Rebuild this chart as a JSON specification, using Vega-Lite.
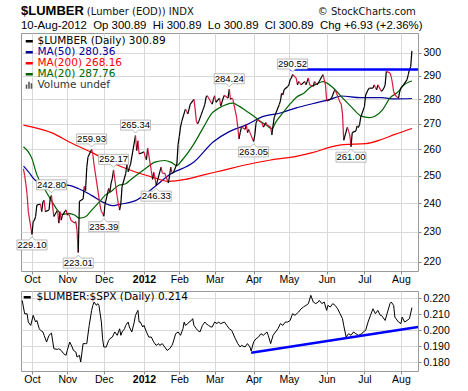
{
"$schema": "https://vega.github.io/schema/vega-lite/v6.json",
"background": "white",
"padding": {"left": 14, "top": 4, "right": 4, "bottom": 4},
"config": {
  "font": "Liberation Sans",
  "view": {"stroke": "#9a9a9a", "strokeWidth": 1},
  "axis": {"domain": false, "gridColor": "#d9d9d9", "gridWidth": 1, "tickColor": "#888888", "tickSize": 3, "labelFont": "Liberation Sans", "labelFontSize": 10.5, "labelColor": "#000000", "labelFlush": false, "labelOverlap": false, "labelPadding": 0},
  "legend": {"labelFont": "DejaVu Sans", "labelFontSize": 10.5, "labelColor": "#000000"}
},
"title": {"text": "(Lumber (EOD)) INDX\u00a0\u00a0\u00a0\u00a0\u00a0\u00a0\u00a0\u00a0\u00a0\u00a0\u00a0\u00a0\u00a0\u00a0\u00a0\u00a0\u00a0\u00a0\u00a0\u00a0\u00a0\u00a0\u00a0\u00a0\u00a0\u00a0\u00a0\u00a0\u00a0\u00a0\u00a0\u00a0\u00a0\u00a0\u00a0\u00a0\u00a0\u00a0\u00a0\u00a9 StockCharts.com", "anchor": "start", "dx": 72, "dy": 17, "font": "DejaVu Sans", "fontSize": 10, "fontWeight": "normal", "color": "#111111"},
"spacing": 5,
"resolve": {"scale": {"color": "independent"}},
"datasets": {
"price": [
{"date":"2011-09-26","close":252.5},{"date":"2011-09-27","close":250},{"date":"2011-09-28","close":247},{"date":"2011-09-29","close":243},{"date":"2011-09-30","close":237},
{"date":"2011-10-03","close":229.1},{"date":"2011-10-04","close":233.5},{"date":"2011-10-05","close":234},{"date":"2011-10-06","close":235.3},{"date":"2011-10-07","close":239.3},
{"date":"2011-10-10","close":239.7},{"date":"2011-10-11","close":237},{"date":"2011-10-12","close":240.5},{"date":"2011-10-13","close":241},{"date":"2011-10-14","close":237},
{"date":"2011-10-17","close":237.6},{"date":"2011-10-18","close":241.7},{"date":"2011-10-19","close":242.8},{"date":"2011-10-20","close":238.7},{"date":"2011-10-21","close":235.3},
{"date":"2011-10-24","close":237.6},{"date":"2011-10-25","close":233},{"date":"2011-10-26","close":237},{"date":"2011-10-27","close":234},{"date":"2011-10-28","close":235.8},
{"date":"2011-10-31","close":237.6},{"date":"2011-11-01","close":235.8},{"date":"2011-11-02","close":236.3},{"date":"2011-11-03","close":235.3},{"date":"2011-11-04","close":234},
{"date":"2011-11-07","close":233},{"date":"2011-11-08","close":233.5},{"date":"2011-11-09","close":230.5},{"date":"2011-11-10","close":223.01},{"date":"2011-11-11","close":240.7},
{"date":"2011-11-14","close":241.5},{"date":"2011-11-15","close":246},{"date":"2011-11-16","close":244.5},{"date":"2011-11-17","close":253},{"date":"2011-11-18","close":257},
{"date":"2011-11-21","close":259.93},{"date":"2011-11-22","close":258},{"date":"2011-11-23","close":254},{"date":"2011-11-25","close":248},
{"date":"2011-11-28","close":239},{"date":"2011-11-29","close":237},{"date":"2011-11-30","close":236.5},{"date":"2011-12-01","close":235.39},{"date":"2011-12-02","close":239.6},
{"date":"2011-12-05","close":245.3},{"date":"2011-12-06","close":244},{"date":"2011-12-07","close":247.3},{"date":"2011-12-08","close":249},{"date":"2011-12-09","close":252.17},
{"date":"2011-12-12","close":242.3},{"date":"2011-12-13","close":239.7},{"date":"2011-12-14","close":237.5},{"date":"2011-12-15","close":240},{"date":"2011-12-16","close":246},
{"date":"2011-12-19","close":250.8},{"date":"2011-12-20","close":254.4},{"date":"2011-12-21","close":251.4},{"date":"2011-12-22","close":253},{"date":"2011-12-23","close":254.4},
{"date":"2011-12-27","close":265.34},{"date":"2011-12-28","close":259.5},{"date":"2011-12-29","close":263.3},{"date":"2011-12-30","close":258.2},
{"date":"2012-01-03","close":259},{"date":"2012-01-04","close":257},{"date":"2012-01-05","close":256},{"date":"2012-01-06","close":260.4},
{"date":"2012-01-09","close":251.9},{"date":"2012-01-10","close":248.6},{"date":"2012-01-11","close":251.2},{"date":"2012-01-12","close":249.3},{"date":"2012-01-13","close":246.33},
{"date":"2012-01-17","close":253.2},{"date":"2012-01-18","close":251},{"date":"2012-01-19","close":250.8},{"date":"2012-01-20","close":251},
{"date":"2012-01-23","close":247.3},{"date":"2012-01-24","close":250},{"date":"2012-01-25","close":253.2},{"date":"2012-01-26","close":251},{"date":"2012-01-27","close":251},
{"date":"2012-01-30","close":254.4},{"date":"2012-01-31","close":261.9},{"date":"2012-02-01","close":265},{"date":"2012-02-02","close":268.7},{"date":"2012-02-03","close":271},
{"date":"2012-02-06","close":276},{"date":"2012-02-07","close":275},{"date":"2012-02-08","close":274},{"date":"2012-02-09","close":276},{"date":"2012-02-10","close":278},
{"date":"2012-02-13","close":280},{"date":"2012-02-14","close":276},{"date":"2012-02-15","close":271},{"date":"2012-02-16","close":270},{"date":"2012-02-17","close":271},
{"date":"2012-02-21","close":276.5},{"date":"2012-02-22","close":278},{"date":"2012-02-23","close":281},{"date":"2012-02-24","close":281.5},
{"date":"2012-02-27","close":278.8},{"date":"2012-02-28","close":278},{"date":"2012-02-29","close":280},{"date":"2012-03-01","close":281.5},{"date":"2012-03-02","close":278.8},
{"date":"2012-03-05","close":280.5},{"date":"2012-03-06","close":277.2},{"date":"2012-03-07","close":278.8},{"date":"2012-03-08","close":280.5},{"date":"2012-03-09","close":281.7},
{"date":"2012-03-12","close":280.5},{"date":"2012-03-13","close":284.24},{"date":"2012-03-14","close":280},{"date":"2012-03-15","close":280.5},{"date":"2012-03-16","close":280},
{"date":"2012-03-19","close":272.7},{"date":"2012-03-20","close":268.7},{"date":"2012-03-21","close":264},{"date":"2012-03-22","close":266.5},{"date":"2012-03-23","close":268.7},
{"date":"2012-03-26","close":267.8},{"date":"2012-03-27","close":269.7},{"date":"2012-03-28","close":266.5},{"date":"2012-03-29","close":267.8},{"date":"2012-03-30","close":266.5},
{"date":"2012-04-02","close":263.05},{"date":"2012-04-03","close":265.6},{"date":"2012-04-04","close":270.3},{"date":"2012-04-05","close":271.6},
{"date":"2012-04-09","close":270.3},{"date":"2012-04-10","close":268.7},{"date":"2012-04-11","close":269.5},{"date":"2012-04-12","close":270.5},{"date":"2012-04-13","close":269.5},
{"date":"2012-04-16","close":268.7},{"date":"2012-04-17","close":265.6},{"date":"2012-04-18","close":269.5},{"date":"2012-04-19","close":272.7},{"date":"2012-04-20","close":274},
{"date":"2012-04-23","close":277.8},{"date":"2012-04-24","close":279.3},{"date":"2012-04-25","close":282.6},{"date":"2012-04-26","close":281.8},{"date":"2012-04-27","close":284},
{"date":"2012-04-30","close":285.4},{"date":"2012-05-01","close":286.1},{"date":"2012-05-02","close":288.3},{"date":"2012-05-03","close":289},{"date":"2012-05-04","close":290.52},
{"date":"2012-05-07","close":289},{"date":"2012-05-08","close":286.1},{"date":"2012-05-09","close":287.5},{"date":"2012-05-10","close":286.8},{"date":"2012-05-11","close":286.1},
{"date":"2012-05-14","close":287.5},{"date":"2012-05-15","close":286.1},{"date":"2012-05-16","close":287.5},{"date":"2012-05-17","close":289},{"date":"2012-05-18","close":286.1},
{"date":"2012-05-21","close":285.5},{"date":"2012-05-22","close":287.5},{"date":"2012-05-23","close":286.8},{"date":"2012-05-24","close":286.1},{"date":"2012-05-25","close":286.8},
{"date":"2012-05-29","close":290.5},{"date":"2012-05-30","close":288.3},{"date":"2012-05-31","close":286.1},{"date":"2012-06-01","close":279.3},
{"date":"2012-06-04","close":280},{"date":"2012-06-05","close":280.6},{"date":"2012-06-06","close":281.8},{"date":"2012-06-07","close":283.3},{"date":"2012-06-08","close":284},
{"date":"2012-06-11","close":280},{"date":"2012-06-12","close":278.8},{"date":"2012-06-13","close":278},{"date":"2012-06-14","close":274},{"date":"2012-06-15","close":263.5},
{"date":"2012-06-18","close":268.7},{"date":"2012-06-19","close":267},{"date":"2012-06-20","close":265.6},{"date":"2012-06-21","close":261},{"date":"2012-06-22","close":266.5},
{"date":"2012-06-25","close":267.2},{"date":"2012-06-26","close":269.2},{"date":"2012-06-27","close":268.5},{"date":"2012-06-28","close":269.7},{"date":"2012-06-29","close":272.7},
{"date":"2012-07-02","close":277},{"date":"2012-07-03","close":281.8},{"date":"2012-07-05","close":284},{"date":"2012-07-06","close":284.7},
{"date":"2012-07-09","close":284.7},{"date":"2012-07-10","close":286.1},{"date":"2012-07-11","close":285},{"date":"2012-07-12","close":284},{"date":"2012-07-13","close":286.1},
{"date":"2012-07-16","close":283.3},{"date":"2012-07-17","close":284},{"date":"2012-07-18","close":284.7},{"date":"2012-07-19","close":286.1},{"date":"2012-07-20","close":291.9},
{"date":"2012-07-23","close":291.2},{"date":"2012-07-24","close":289.6},{"date":"2012-07-25","close":286.8},{"date":"2012-07-26","close":283.3},{"date":"2012-07-27","close":281.8},
{"date":"2012-07-30","close":280.5},{"date":"2012-07-31","close":283.3},{"date":"2012-08-01","close":284.7},{"date":"2012-08-02","close":285.4},{"date":"2012-08-03","close":286},
{"date":"2012-08-06","close":288.3},{"date":"2012-08-07","close":290.5},{"date":"2012-08-08","close":292.6},{"date":"2012-08-09","close":293.96},{"date":"2012-08-10","close":300.89}
],
"ma": [
{"date":"2011-09-26","series":"MA(50) 280.36","value":253.6},{"date":"2011-09-30","series":"MA(50) 280.36","value":251.5},{"date":"2011-10-06","series":"MA(50) 280.36","value":248.2},{"date":"2011-10-14","series":"MA(50) 280.36","value":246.8},{"date":"2011-11-01","series":"MA(50) 280.36","value":246.5},{"date":"2011-11-10","series":"MA(50) 280.36","value":245.3},{"date":"2011-11-21","series":"MA(50) 280.36","value":242.8},{"date":"2011-12-01","series":"MA(50) 280.36","value":240.2},{"date":"2011-12-08","series":"MA(50) 280.36","value":239.1},{"date":"2011-12-14","series":"MA(50) 280.36","value":239.6},{"date":"2011-12-27","series":"MA(50) 280.36","value":240.9},{"date":"2012-01-13","series":"MA(50) 280.36","value":246.4},{"date":"2012-01-23","series":"MA(50) 280.36","value":250.1},{"date":"2012-02-13","series":"MA(50) 280.36","value":255.1},{"date":"2012-02-29","series":"MA(50) 280.36","value":262.9},{"date":"2012-03-13","series":"MA(50) 280.36","value":266.9},{"date":"2012-03-27","series":"MA(50) 280.36","value":269.6},{"date":"2012-04-10","series":"MA(50) 280.36","value":273.0},{"date":"2012-04-24","series":"MA(50) 280.36","value":274.4},{"date":"2012-05-07","series":"MA(50) 280.36","value":276.5},{"date":"2012-05-21","series":"MA(50) 280.36","value":278.3},{"date":"2012-06-04","series":"MA(50) 280.36","value":280.0},{"date":"2012-06-13","series":"MA(50) 280.36","value":281.4},{"date":"2012-06-29","series":"MA(50) 280.36","value":280.7},{"date":"2012-07-16","series":"MA(50) 280.36","value":280.7},{"date":"2012-07-27","series":"MA(50) 280.36","value":280.2},{"date":"2012-08-10","series":"MA(50) 280.36","value":280.36},
{"date":"2011-09-26","series":"MA(200) 268.16","value":269.5},{"date":"2011-10-20","series":"MA(200) 268.16","value":266.3},{"date":"2011-11-04","series":"MA(200) 268.16","value":262.5},{"date":"2011-11-21","series":"MA(200) 268.16","value":258.8},{"date":"2011-12-06","series":"MA(200) 268.16","value":255.2},{"date":"2011-12-23","series":"MA(200) 268.16","value":252.0},{"date":"2012-01-11","series":"MA(200) 268.16","value":249.3},{"date":"2012-01-23","series":"MA(200) 268.16","value":247.9},{"date":"2012-02-06","series":"MA(200) 268.16","value":248.6},{"date":"2012-02-21","series":"MA(200) 268.16","value":250.3},{"date":"2012-03-08","series":"MA(200) 268.16","value":252.0},{"date":"2012-03-27","series":"MA(200) 268.16","value":254.1},{"date":"2012-04-16","series":"MA(200) 268.16","value":255.9},{"date":"2012-05-07","series":"MA(200) 268.16","value":257.3},{"date":"2012-05-21","series":"MA(200) 268.16","value":258.8},{"date":"2012-06-04","series":"MA(200) 268.16","value":260.8},{"date":"2012-06-15","series":"MA(200) 268.16","value":261.8},{"date":"2012-07-03","series":"MA(200) 268.16","value":262.2},{"date":"2012-07-16","series":"MA(200) 268.16","value":263.8},{"date":"2012-07-27","series":"MA(200) 268.16","value":265.8},{"date":"2012-08-10","series":"MA(200) 268.16","value":268.16},
{"date":"2011-09-26","series":"MA(20) 287.76","value":261.0},{"date":"2011-10-03","series":"MA(20) 287.76","value":256.4},{"date":"2011-10-07","series":"MA(20) 287.76","value":250.4},{"date":"2011-10-13","series":"MA(20) 287.76","value":245.4},{"date":"2011-10-19","series":"MA(20) 287.76","value":240.9},{"date":"2011-10-24","series":"MA(20) 287.76","value":237.5},{"date":"2011-10-28","series":"MA(20) 287.76","value":236.0},{"date":"2011-11-02","series":"MA(20) 287.76","value":236.4},{"date":"2011-11-07","series":"MA(20) 287.76","value":235.8},{"date":"2011-11-11","series":"MA(20) 287.76","value":234.7},{"date":"2011-11-16","series":"MA(20) 287.76","value":235.2},{"date":"2011-11-21","series":"MA(20) 287.76","value":237.5},{"date":"2011-11-28","series":"MA(20) 287.76","value":240.8},{"date":"2011-12-02","series":"MA(20) 287.76","value":242.8},{"date":"2011-12-07","series":"MA(20) 287.76","value":244.2},{"date":"2011-12-13","series":"MA(20) 287.76","value":246.4},{"date":"2011-12-19","series":"MA(20) 287.76","value":247.0},{"date":"2011-12-23","series":"MA(20) 287.76","value":248.5},{"date":"2012-01-04","series":"MA(20) 287.76","value":252.6},{"date":"2012-01-12","series":"MA(20) 287.76","value":255.1},{"date":"2012-01-20","series":"MA(20) 287.76","value":255.7},{"date":"2012-01-25","series":"MA(20) 287.76","value":255.1},{"date":"2012-01-30","series":"MA(20) 287.76","value":253.8},{"date":"2012-02-03","series":"MA(20) 287.76","value":255.7},{"date":"2012-02-13","series":"MA(20) 287.76","value":262.1},{"date":"2012-02-21","series":"MA(20) 287.76","value":268.8},{"date":"2012-02-28","series":"MA(20) 287.76","value":274.4},{"date":"2012-03-05","series":"MA(20) 287.76","value":276.5},{"date":"2012-03-16","series":"MA(20) 287.76","value":278.4},{"date":"2012-03-21","series":"MA(20) 287.76","value":277.2},{"date":"2012-03-27","series":"MA(20) 287.76","value":275.2},{"date":"2012-04-02","series":"MA(20) 287.76","value":273.2},{"date":"2012-04-09","series":"MA(20) 287.76","value":270.5},{"date":"2012-04-13","series":"MA(20) 287.76","value":269.3},{"date":"2012-04-17","series":"MA(20) 287.76","value":268.0},{"date":"2012-04-20","series":"MA(20) 287.76","value":270.5},{"date":"2012-04-26","series":"MA(20) 287.76","value":274.4},{"date":"2012-05-02","series":"MA(20) 287.76","value":278.1},{"date":"2012-05-07","series":"MA(20) 287.76","value":280.8},{"date":"2012-05-14","series":"MA(20) 287.76","value":282.9},{"date":"2012-05-18","series":"MA(20) 287.76","value":284.9},{"date":"2012-05-24","series":"MA(20) 287.76","value":286.5},{"date":"2012-05-29","series":"MA(20) 287.76","value":287.5},{"date":"2012-06-06","series":"MA(20) 287.76","value":285.0},{"date":"2012-06-14","series":"MA(20) 287.76","value":280.6},{"date":"2012-06-22","series":"MA(20) 287.76","value":276.5},{"date":"2012-06-29","series":"MA(20) 287.76","value":273.2},{"date":"2012-07-06","series":"MA(20) 287.76","value":272.5},{"date":"2012-07-11","series":"MA(20) 287.76","value":273.2},{"date":"2012-07-17","series":"MA(20) 287.76","value":275.8},{"date":"2012-07-23","series":"MA(20) 287.76","value":280.6},{"date":"2012-07-30","series":"MA(20) 287.76","value":283.3},{"date":"2012-08-02","series":"MA(20) 287.76","value":285.4},{"date":"2012-08-10","series":"MA(20) 287.76","value":287.76}
],
"ratio": [
{"date":"2011-09-25","ratio":0.2185},{"date":"2011-09-27","ratio":0.2102},{"date":"2011-09-29","ratio":0.2102},{"date":"2011-09-30","ratio":0.205},{"date":"2011-10-02","ratio":0.2029},{"date":"2011-10-04","ratio":0.2092},{"date":"2011-10-06","ratio":0.205},{"date":"2011-10-07","ratio":0.206},{"date":"2011-10-09","ratio":0.2008},{"date":"2011-10-10","ratio":0.1998},{"date":"2011-10-12","ratio":0.1988},{"date":"2011-10-13","ratio":0.1967},{"date":"2011-10-15","ratio":0.1925},{"date":"2011-10-17","ratio":0.1967},{"date":"2011-10-19","ratio":0.1981},{"date":"2011-10-21","ratio":0.1883},{"date":"2011-10-24","ratio":0.1879},{"date":"2011-10-25","ratio":0.1883},{"date":"2011-10-27","ratio":0.1873},{"date":"2011-10-29","ratio":0.1852},{"date":"2011-10-31","ratio":0.1842},
{"date":"2011-11-01","ratio":0.1873},{"date":"2011-11-03","ratio":0.1925},{"date":"2011-11-05","ratio":0.1894},{"date":"2011-11-06","ratio":0.1873},{"date":"2011-11-08","ratio":0.1863},{"date":"2011-11-09","ratio":0.1831},{"date":"2011-11-11","ratio":0.1842},{"date":"2011-11-12","ratio":0.18},{"date":"2011-11-14","ratio":0.1915},{"date":"2011-11-16","ratio":0.1915},{"date":"2011-11-17","ratio":0.1915},{"date":"2011-11-19","ratio":0.2029},{"date":"2011-11-21","ratio":0.2123},{"date":"2011-11-22","ratio":0.2154},{"date":"2011-11-23","ratio":0.2175},{"date":"2011-11-25","ratio":0.2154},{"date":"2011-11-26","ratio":0.2165},{"date":"2011-11-27","ratio":0.2154},{"date":"2011-11-29","ratio":0.205},{"date":"2011-11-30","ratio":0.1946},
{"date":"2011-12-01","ratio":0.1894},{"date":"2011-12-03","ratio":0.1894},{"date":"2011-12-05","ratio":0.1935},{"date":"2011-12-06","ratio":0.1946},{"date":"2011-12-08","ratio":0.1956},{"date":"2011-12-10","ratio":0.1988},{"date":"2011-12-12","ratio":0.1967},{"date":"2011-12-14","ratio":0.2008},{"date":"2011-12-15","ratio":0.1967},{"date":"2011-12-16","ratio":0.1988},{"date":"2011-12-18","ratio":0.2008},{"date":"2011-12-19","ratio":0.2029},{"date":"2011-12-21","ratio":0.205},{"date":"2011-12-22","ratio":0.2019},{"date":"2011-12-24","ratio":0.1988},{"date":"2011-12-26","ratio":0.205},{"date":"2011-12-27","ratio":0.2092},{"date":"2011-12-29","ratio":0.2123},{"date":"2011-12-30","ratio":0.205},{"date":"2011-12-31","ratio":0.205},
{"date":"2012-01-02","ratio":0.2019},{"date":"2012-01-03","ratio":0.2029},{"date":"2012-01-05","ratio":0.1988},{"date":"2012-01-07","ratio":0.1956},{"date":"2012-01-09","ratio":0.1956},{"date":"2012-01-11","ratio":0.1925},{"date":"2012-01-13","ratio":0.1904},{"date":"2012-01-15","ratio":0.1915},{"date":"2012-01-16","ratio":0.1904},{"date":"2012-01-18","ratio":0.1915},{"date":"2012-01-20","ratio":0.1894},{"date":"2012-01-22","ratio":0.1873},{"date":"2012-01-24","ratio":0.1883},{"date":"2012-01-26","ratio":0.1904},{"date":"2012-01-27","ratio":0.1925},{"date":"2012-01-29","ratio":0.1977},{"date":"2012-01-31","ratio":0.1988},
{"date":"2012-02-02","ratio":0.1967},{"date":"2012-02-04","ratio":0.2008},{"date":"2012-02-05","ratio":0.205},{"date":"2012-02-06","ratio":0.2029},{"date":"2012-02-08","ratio":0.204},{"date":"2012-02-09","ratio":0.205},{"date":"2012-02-11","ratio":0.206},{"date":"2012-02-12","ratio":0.2071},{"date":"2012-02-13","ratio":0.2029},{"date":"2012-02-15","ratio":0.2008},{"date":"2012-02-16","ratio":0.1998},{"date":"2012-02-18","ratio":0.1988},{"date":"2012-02-20","ratio":0.2029},{"date":"2012-02-22","ratio":0.205},{"date":"2012-02-23","ratio":0.204},{"date":"2012-02-25","ratio":0.2029},{"date":"2012-02-27","ratio":0.2019},{"date":"2012-02-28","ratio":0.2019},
{"date":"2012-03-01","ratio":0.205},{"date":"2012-03-03","ratio":0.204},{"date":"2012-03-04","ratio":0.205},{"date":"2012-03-06","ratio":0.204},{"date":"2012-03-09","ratio":0.205},{"date":"2012-03-11","ratio":0.2029},{"date":"2012-03-13","ratio":0.2008},{"date":"2012-03-15","ratio":0.1998},{"date":"2012-03-18","ratio":0.1946},{"date":"2012-03-20","ratio":0.1915},{"date":"2012-03-22","ratio":0.1894},{"date":"2012-03-23","ratio":0.1904},{"date":"2012-03-26","ratio":0.1894},{"date":"2012-03-28","ratio":0.1915},{"date":"2012-03-30","ratio":0.1894},{"date":"2012-03-31","ratio":0.1869},
{"date":"2012-04-02","ratio":0.1925},{"date":"2012-04-04","ratio":0.1946},{"date":"2012-04-06","ratio":0.1956},{"date":"2012-04-08","ratio":0.1977},{"date":"2012-04-10","ratio":0.1967},{"date":"2012-04-13","ratio":0.1988},{"date":"2012-04-14","ratio":0.1967},{"date":"2012-04-16","ratio":0.1915},{"date":"2012-04-18","ratio":0.1967},{"date":"2012-04-20","ratio":0.1988},{"date":"2012-04-22","ratio":0.2008},{"date":"2012-04-24","ratio":0.204},{"date":"2012-04-26","ratio":0.2029},{"date":"2012-04-28","ratio":0.205},{"date":"2012-04-30","ratio":0.205},
{"date":"2012-05-02","ratio":0.206},{"date":"2012-05-04","ratio":0.2102},{"date":"2012-05-06","ratio":0.2092},{"date":"2012-05-09","ratio":0.2113},{"date":"2012-05-11","ratio":0.2133},{"date":"2012-05-13","ratio":0.2144},{"date":"2012-05-15","ratio":0.2154},{"date":"2012-05-17","ratio":0.2165},{"date":"2012-05-19","ratio":0.2217},{"date":"2012-05-21","ratio":0.2175},{"date":"2012-05-23","ratio":0.2165},{"date":"2012-05-25","ratio":0.2175},{"date":"2012-05-26","ratio":0.2185},{"date":"2012-05-28","ratio":0.2165},{"date":"2012-05-30","ratio":0.2175},
{"date":"2012-06-01","ratio":0.2123},{"date":"2012-06-02","ratio":0.2154},{"date":"2012-06-04","ratio":0.2144},{"date":"2012-06-06","ratio":0.2165},{"date":"2012-06-08","ratio":0.2154},{"date":"2012-06-10","ratio":0.2133},{"date":"2012-06-12","ratio":0.2102},{"date":"2012-06-14","ratio":0.2071},{"date":"2012-06-15","ratio":0.2029},{"date":"2012-06-17","ratio":0.1956},{"date":"2012-06-19","ratio":0.1977},{"date":"2012-06-21","ratio":0.1967},{"date":"2012-06-23","ratio":0.1988},{"date":"2012-06-25","ratio":0.1977},{"date":"2012-06-27","ratio":0.1967},{"date":"2012-06-30","ratio":0.1977},
{"date":"2012-07-01","ratio":0.1988},{"date":"2012-07-03","ratio":0.1998},{"date":"2012-07-05","ratio":0.205},{"date":"2012-07-07","ratio":0.2092},{"date":"2012-07-09","ratio":0.2133},{"date":"2012-07-11","ratio":0.2102},{"date":"2012-07-13","ratio":0.2123},{"date":"2012-07-15","ratio":0.2092},{"date":"2012-07-16","ratio":0.2092},{"date":"2012-07-19","ratio":0.206},{"date":"2012-07-21","ratio":0.2113},{"date":"2012-07-23","ratio":0.2165},{"date":"2012-07-24","ratio":0.2175},{"date":"2012-07-26","ratio":0.2154},{"date":"2012-07-27","ratio":0.2081},{"date":"2012-07-30","ratio":0.205},
{"date":"2012-08-01","ratio":0.204},{"date":"2012-08-02","ratio":0.2081},{"date":"2012-08-04","ratio":0.205},{"date":"2012-08-06","ratio":0.206},{"date":"2012-08-08","ratio":0.2071},{"date":"2012-08-10","ratio":0.214}
],
"labels": [
{"date":"2011-10-19","price":242.80,"kind":"hi"},{"date":"2011-11-21","price":259.93,"kind":"hi"},{"date":"2011-12-09","price":252.17,"kind":"hi"},{"date":"2011-12-27","price":265.34,"kind":"hi"},{"date":"2012-03-13","price":284.24,"kind":"hi"},{"date":"2012-05-04","price":290.52,"kind":"hi"},
{"date":"2011-10-03","price":229.10,"kind":"lo"},{"date":"2011-11-10","price":223.01,"kind":"lo"},{"date":"2011-12-01","price":235.39,"kind":"lo"},{"date":"2012-01-13","price":246.33,"kind":"lo"},{"date":"2012-04-02","price":263.05,"kind":"lo"},{"date":"2012-06-21","price":261.00,"kind":"lo"}
],
"resist": [{"start":"2012-05-02","end":"2012-08-15","level":292.7}],
"trend": [{"start":"2012-03-31","end":"2012-08-15","from":0.1858,"to":0.2019}]
},
"vconcat": [
{
  "width": 397, "height": 238,
  "title": {"text": "$LUMBER", "subtitle": "10-Aug-2012\u00a0 Op 300.89\u00a0 Hi 300.89\u00a0 Lo 300.89\u00a0 Cl 300.89\u00a0 Chg +6.93 (+2.36%)", "anchor": "start", "frame": "group", "font": "Liberation Sans", "fontSize": 13, "fontWeight": "bold", "color": "#000000", "subtitleFont": "Liberation Sans", "subtitleFontSize": 11.4, "subtitleColor": "#000000", "subtitlePadding": 2, "offset": 2},
  "layer": [
    {
      "data": {"name": "ma"},
      "mark": {"type": "line", "strokeWidth": 1.2, "interpolate": "monotone"},
      "encoding": {
        "x": {"field": "date", "type": "temporal", "title": null,
              "scale": {"type": "utc", "domain": [{"year": 2011, "month": 9, "date": 24, "utc": true}, {"year": 2012, "month": 8, "date": 15, "utc": true}]},
              "axis": {"values": {"expr": "[utc(2011,9,3),utc(2011,10,1),utc(2011,11,1),utc(2012,0,3),utc(2012,1,1),utc(2012,2,1),utc(2012,3,2),utc(2012,4,1),utc(2012,5,1),utc(2012,6,2),utc(2012,7,1)]"}, "labelExpr": "utcmonth(datum.value) == 0 ? utcFormat(datum.value, '%Y') : utcFormat(datum.value, '%b')", "labelFontWeight": {"condition": {"test": "utcmonth(datum.value) == 0", "value": "bold"}, "value": "normal"}, "labelOverlap": false, "labelBound": false, "labelFlush": false, "grid": true}},
        "y": {"field": "value", "type": "quantitative", "title": null,
              "scale": {"type": "log", "domain": [217, 309], "nice": false, "zero": false},
              "axis": {"orient": "right", "values": [220, 230, 240, 250, 260, 270, 280, 290, 300], "format": "d", "grid": true, "labelPadding": 2, "labelOverlap": false, "labelBound": false}},
        "color": {"field": "series", "type": "nominal",
                  "scale": {"domain": ["$LUMBER (Daily) 300.89", "MA(50) 280.36", "MA(200) 268.16", "MA(20) 287.76", "Volume undef"], "range": ["#000000", "#000099", "#ff0000", "#006400", "#555555"]},
                  "legend": {"orient": "top-left", "offset": 3, "padding": 0, "title": null, "symbolType": "stroke", "symbolStrokeWidth": 2.5, "symbolSize": 50, "labelOffset": 3, "rowPadding": 0, "labelLimit": 300,
                             "encode": {"labels": {"update": {"fill": {"signal": "datum.label == 'MA(50) 280.36' ? '#000099' : datum.label == 'MA(200) 268.16' ? '#ff0000' : datum.label == 'MA(20) 287.76' ? '#006400' : datum.label == 'Volume undef' ? '#333333' : '#000000'"}}},
                                        "symbols": {"update": {"shape": {"signal": "datum.label == 'Volume undef' ? 'M-1,1V-0.2H-0.55V1ZM-0.3,1V-1H0.15V1ZM0.4,1V-0.55H0.85V1Z' : 'stroke'"}, "fill": {"signal": "datum.label == 'Volume undef' ? '#555555' : 'transparent'"}, "strokeWidth": {"signal": "datum.label == 'Volume undef' ? 0 : 2.5"}}}}}}
      }
    },
    {
      "data": {"name": "price"},
      "transform": [
        {"window": [{"op": "lag", "field": "close", "as": "prev"}, {"op": "lag", "field": "date", "as": "prevDate"}], "sort": [{"field": "date", "order": "ascending"}]},
        {"filter": "datum.prev != null"}
      ],
      "mark": {"type": "rule", "strokeWidth": 1.2},
      "encoding": {
        "x": {"field": "prevDate", "type": "temporal", "title": null, "axis": {"values": {"expr": "[utc(2011,9,3),utc(2011,10,1),utc(2011,11,1),utc(2012,0,3),utc(2012,1,1),utc(2012,2,1),utc(2012,3,2),utc(2012,4,1),utc(2012,5,1),utc(2012,6,2),utc(2012,7,1)]"}, "labelExpr": "utcmonth(datum.value) == 0 ? utcFormat(datum.value, '%Y') : utcFormat(datum.value, '%b')", "labelFontWeight": {"condition": {"test": "utcmonth(datum.value) == 0", "value": "bold"}, "value": "normal"}, "labelOverlap": false, "labelBound": false, "labelFlush": false, "grid": true}},
        "x2": {"field": "date"},
        "y": {"field": "prev", "type": "quantitative", "title": null, "axis": {"orient": "right", "values": [220, 230, 240, 250, 260, 270, 280, 290, 300], "format": "d", "grid": true, "labelPadding": 2, "labelOverlap": false, "labelBound": false}},
        "y2": {"field": "close"},
        "color": {"condition": {"test": "datum.close < datum.prev", "value": "#d8173c"}, "value": "#000000"}
      }
    },
    {
      "data": {"name": "resist"},
      "mark": {"type": "rule", "color": "#0000ff", "strokeWidth": 2.5},
      "encoding": {
        "x": {"field": "start", "type": "temporal", "title": null, "axis": {"values": {"expr": "[utc(2011,9,3),utc(2011,10,1),utc(2011,11,1),utc(2012,0,3),utc(2012,1,1),utc(2012,2,1),utc(2012,3,2),utc(2012,4,1),utc(2012,5,1),utc(2012,6,2),utc(2012,7,1)]"}, "labelExpr": "utcmonth(datum.value) == 0 ? utcFormat(datum.value, '%Y') : utcFormat(datum.value, '%b')", "labelFontWeight": {"condition": {"test": "utcmonth(datum.value) == 0", "value": "bold"}, "value": "normal"}, "labelOverlap": false, "labelBound": false, "labelFlush": false, "grid": true}},
        "x2": {"field": "end"},
        "y": {"field": "level", "type": "quantitative", "title": null, "axis": {"orient": "right", "values": [220, 230, 240, 250, 260, 270, 280, 290, 300], "format": "d", "grid": true, "labelPadding": 2, "labelOverlap": false, "labelBound": false}}
      }
    },
    {
      "data": {"name": "labels"},
      "transform": [{"filter": "datum.kind == 'hi'"}],
      "mark": {"type": "point", "shape": "M-1.5,-1.55H1.5V-0.55H0.3L0,-0.25L-0.3,-0.55H-1.5Z", "size": 400, "filled": true, "fill": "#ffffff", "stroke": "#a8a8a8", "strokeWidth": 0.8, "opacity": 1},
      "encoding": {
        "x": {"field": "date", "type": "temporal", "title": null, "axis": {"values": {"expr": "[utc(2011,9,3),utc(2011,10,1),utc(2011,11,1),utc(2012,0,3),utc(2012,1,1),utc(2012,2,1),utc(2012,3,2),utc(2012,4,1),utc(2012,5,1),utc(2012,6,2),utc(2012,7,1)]"}, "labelExpr": "utcmonth(datum.value) == 0 ? utcFormat(datum.value, '%Y') : utcFormat(datum.value, '%b')", "labelFontWeight": {"condition": {"test": "utcmonth(datum.value) == 0", "value": "bold"}, "value": "normal"}, "labelOverlap": false, "labelBound": false, "labelFlush": false, "grid": true}},
        "y": {"field": "price", "type": "quantitative", "title": null, "axis": {"orient": "right", "values": [220, 230, 240, 250, 260, 270, 280, 290, 300], "format": "d", "grid": true, "labelPadding": 2, "labelOverlap": false, "labelBound": false}}
      }
    },
    {
      "data": {"name": "labels"},
      "transform": [{"filter": "datum.kind == 'lo'"}],
      "mark": {"type": "point", "shape": "M-1.5,1.55H1.5V0.55H0.3L0,0.25L-0.3,0.55H-1.5Z", "size": 400, "filled": true, "fill": "#ffffff", "stroke": "#a8a8a8", "strokeWidth": 0.8, "opacity": 1},
      "encoding": {
        "x": {"field": "date", "type": "temporal", "title": null, "axis": {"values": {"expr": "[utc(2011,9,3),utc(2011,10,1),utc(2011,11,1),utc(2012,0,3),utc(2012,1,1),utc(2012,2,1),utc(2012,3,2),utc(2012,4,1),utc(2012,5,1),utc(2012,6,2),utc(2012,7,1)]"}, "labelExpr": "utcmonth(datum.value) == 0 ? utcFormat(datum.value, '%Y') : utcFormat(datum.value, '%b')", "labelFontWeight": {"condition": {"test": "utcmonth(datum.value) == 0", "value": "bold"}, "value": "normal"}, "labelOverlap": false, "labelBound": false, "labelFlush": false, "grid": true}},
        "y": {"field": "price", "type": "quantitative", "title": null, "axis": {"orient": "right", "values": [220, 230, 240, 250, 260, 270, 280, 290, 300], "format": "d", "grid": true, "labelPadding": 2, "labelOverlap": false, "labelBound": false}}
      }
    },
    {
      "data": {"name": "labels"},
      "transform": [{"filter": "datum.kind == 'hi'"}],
      "mark": {"type": "text", "font": "Liberation Sans", "fontSize": 9.5, "baseline": "middle", "align": "center", "yOffset": -10.5, "color": "#000000"},
      "encoding": {
        "x": {"field": "date", "type": "temporal", "title": null, "axis": {"values": {"expr": "[utc(2011,9,3),utc(2011,10,1),utc(2011,11,1),utc(2012,0,3),utc(2012,1,1),utc(2012,2,1),utc(2012,3,2),utc(2012,4,1),utc(2012,5,1),utc(2012,6,2),utc(2012,7,1)]"}, "labelExpr": "utcmonth(datum.value) == 0 ? utcFormat(datum.value, '%Y') : utcFormat(datum.value, '%b')", "labelFontWeight": {"condition": {"test": "utcmonth(datum.value) == 0", "value": "bold"}, "value": "normal"}, "labelOverlap": false, "labelBound": false, "labelFlush": false, "grid": true}},
        "y": {"field": "price", "type": "quantitative", "title": null, "axis": {"orient": "right", "values": [220, 230, 240, 250, 260, 270, 280, 290, 300], "format": "d", "grid": true, "labelPadding": 2, "labelOverlap": false, "labelBound": false}},
        "text": {"field": "price", "type": "quantitative", "format": ".2f"}
      }
    },
    {
      "data": {"name": "labels"},
      "transform": [{"filter": "datum.kind == 'lo'"}],
      "mark": {"type": "text", "font": "Liberation Sans", "fontSize": 9.5, "baseline": "middle", "align": "center", "yOffset": 10.5, "color": "#000000"},
      "encoding": {
        "x": {"field": "date", "type": "temporal", "title": null, "axis": {"values": {"expr": "[utc(2011,9,3),utc(2011,10,1),utc(2011,11,1),utc(2012,0,3),utc(2012,1,1),utc(2012,2,1),utc(2012,3,2),utc(2012,4,1),utc(2012,5,1),utc(2012,6,2),utc(2012,7,1)]"}, "labelExpr": "utcmonth(datum.value) == 0 ? utcFormat(datum.value, '%Y') : utcFormat(datum.value, '%b')", "labelFontWeight": {"condition": {"test": "utcmonth(datum.value) == 0", "value": "bold"}, "value": "normal"}, "labelOverlap": false, "labelBound": false, "labelFlush": false, "grid": true}},
        "y": {"field": "price", "type": "quantitative", "title": null, "axis": {"orient": "right", "values": [220, 230, 240, 250, 260, 270, 280, 290, 300], "format": "d", "grid": true, "labelPadding": 2, "labelOverlap": false, "labelBound": false}},
        "text": {"field": "price", "type": "quantitative", "format": ".2f"}
      }
    }
  ]
},
{
  "width": 397, "height": 80,
  "layer": [
    {
      "data": {"name": "ratio"},
      "mark": {"type": "line", "strokeWidth": 1},
      "encoding": {
        "x": {"field": "date", "type": "temporal", "title": null,
              "scale": {"type": "utc", "domain": [{"year": 2011, "month": 9, "date": 24, "utc": true}, {"year": 2012, "month": 8, "date": 15, "utc": true}]},
              "axis": {"values": {"expr": "[utc(2011,9,3),utc(2011,10,1),utc(2011,11,1),utc(2012,0,3),utc(2012,1,1),utc(2012,2,1),utc(2012,3,2),utc(2012,4,1),utc(2012,5,1),utc(2012,6,2),utc(2012,7,1)]"}, "labelExpr": "utcmonth(datum.value) == 0 ? utcFormat(datum.value, '%Y') : utcFormat(datum.value, '%b')", "labelFontWeight": {"condition": {"test": "utcmonth(datum.value) == 0", "value": "bold"}, "value": "normal"}, "labelOverlap": false, "labelBound": false, "labelFlush": false, "grid": true}},
        "y": {"field": "ratio", "type": "quantitative", "title": null,
              "scale": {"domain": [0.1744, 0.2244], "nice": false, "zero": false},
              "axis": {"orient": "right", "values": [0.18, 0.19, 0.2, 0.21, 0.22], "format": ".3f", "grid": true, "labelPadding": 2, "labelOverlap": false, "labelBound": false}},
        "color": {"datum": "$LUMBER:$SPX (Daily) 0.214", "type": "nominal", "scale": {"range": ["#000000"]},
                  "legend": {"orient": "top-left", "offset": 1, "padding": 0, "title": null, "symbolType": "stroke", "symbolStrokeWidth": 2.5, "symbolSize": 50, "labelOffset": 4, "labelLimit": 300}}
      }
    },
    {
      "data": {"name": "trend"},
      "mark": {"type": "rule", "color": "#0000ff", "strokeWidth": 2.5},
      "encoding": {
        "x": {"field": "start", "type": "temporal", "title": null, "axis": {"values": {"expr": "[utc(2011,9,3),utc(2011,10,1),utc(2011,11,1),utc(2012,0,3),utc(2012,1,1),utc(2012,2,1),utc(2012,3,2),utc(2012,4,1),utc(2012,5,1),utc(2012,6,2),utc(2012,7,1)]"}, "labelExpr": "utcmonth(datum.value) == 0 ? utcFormat(datum.value, '%Y') : utcFormat(datum.value, '%b')", "labelFontWeight": {"condition": {"test": "utcmonth(datum.value) == 0", "value": "bold"}, "value": "normal"}, "labelOverlap": false, "labelBound": false, "labelFlush": false, "grid": true}},
        "x2": {"field": "end"},
        "y": {"field": "from", "type": "quantitative", "title": null, "axis": {"orient": "right", "values": [0.18, 0.19, 0.2, 0.21, 0.22], "format": ".3f", "grid": true, "labelPadding": 2, "labelOverlap": false, "labelBound": false}},
        "y2": {"field": "to"}
      }
    }
  ]
}
]
}
